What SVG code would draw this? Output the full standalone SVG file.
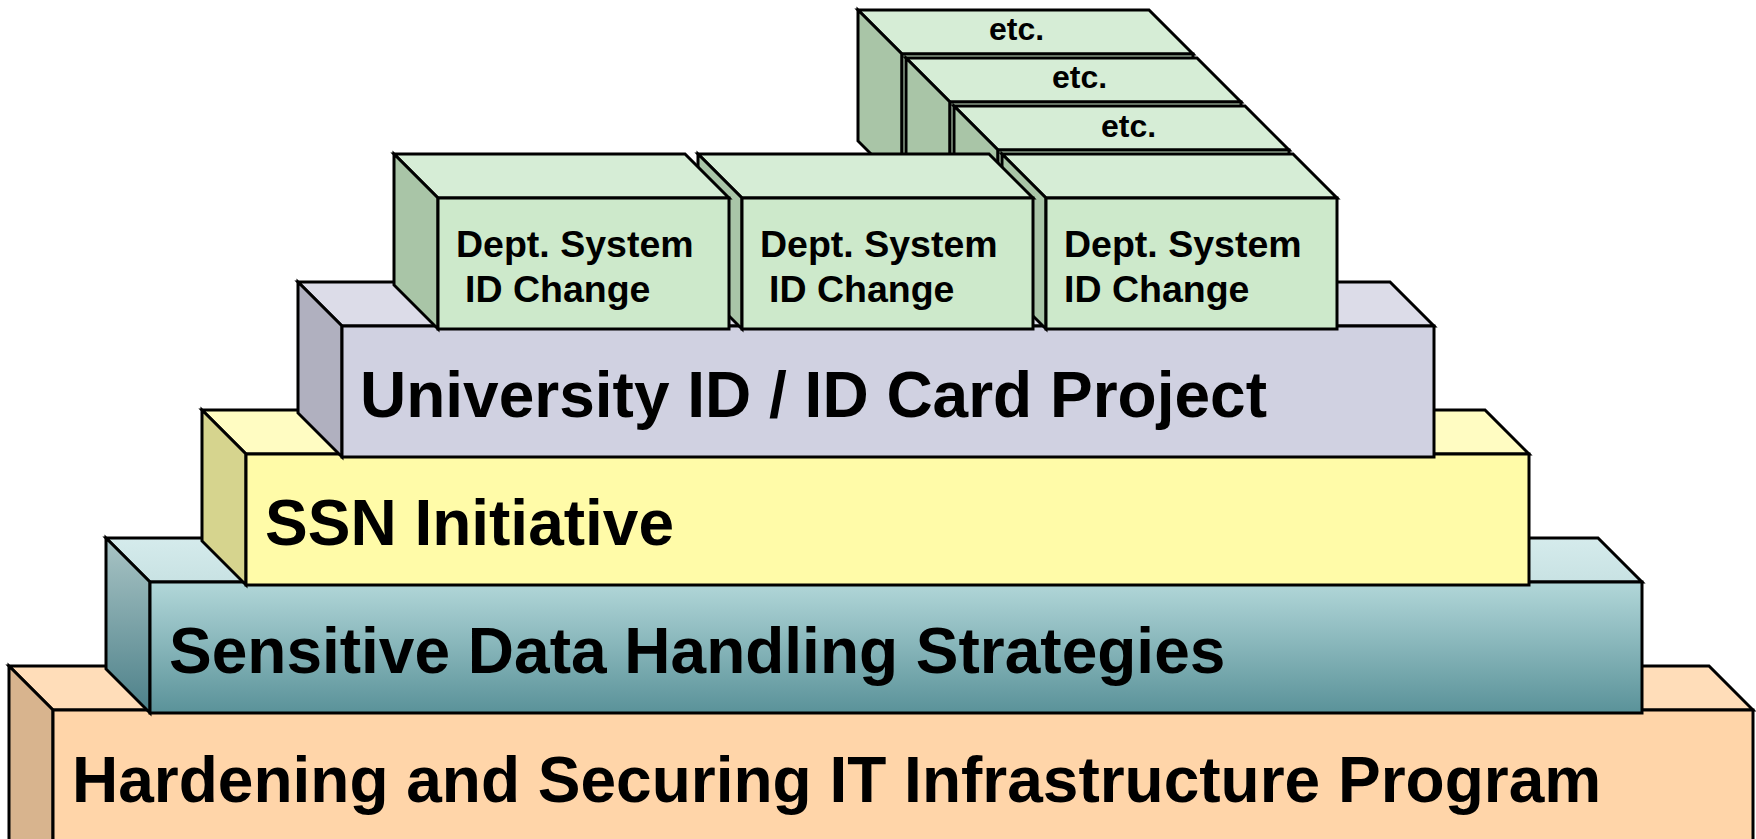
<svg xmlns="http://www.w3.org/2000/svg" width="1756" height="839" viewBox="0 0 1756 839">
<defs>
<linearGradient id="tealFront" x1="0" y1="0" x2="0" y2="1">
<stop offset="0" stop-color="#B2D7D9"/>
<stop offset="1" stop-color="#5A9299"/>
</linearGradient>
<linearGradient id="tealSide" x1="0" y1="0" x2="0" y2="1">
<stop offset="0" stop-color="#A9C4C5"/>
<stop offset="1" stop-color="#4C8089"/>
</linearGradient>
<linearGradient id="tealTop" x1="0" y1="0" x2="0" y2="1">
<stop offset="0" stop-color="#D5EBEC"/>
<stop offset="1" stop-color="#C8E2E3"/>
</linearGradient>
</defs>
<style>
.s{stroke:#000;stroke-width:3;stroke-linejoin:miter}
.big{font-family:"Liberation Sans",Arial,sans-serif;font-weight:bold;font-size:64px;fill:#000}
.dept{font-family:"Liberation Sans",Arial,sans-serif;font-weight:bold;font-size:37.5px;fill:#000}
.etc{font-family:"Liberation Sans",Arial,sans-serif;font-weight:bold;font-size:32px;fill:#000}
.hTop{fill:#FFDDB9}.hSide{fill:#D8B48E}.hFront{fill:#FFD5A9}
.yTop{fill:#FFFCC2}.ySide{fill:#D6D48E}.yFront{fill:#FFFBA8}
.lTop{fill:#DCDCE8}.lSide{fill:#B0B0BF}.lFront{fill:#D0D1E1}
.gTop{fill:#D6EDD6}.gSide{fill:#A9C5A7}.gFront{fill:#CDE9CB}
</style>

<g id="hardening">
<polygon class="s hTop" points="9,666 1709,666 1753,710 53,710"/>
<polygon class="s hSide" points="9,666 53,710 53,910 9,866"/>
<rect class="s hFront" x="53" y="710" width="1700" height="200"/>
<text class="big" x="72" y="802">Hardening and Securing IT Infrastructure Program</text>
</g>

<g id="sensitive">
<polygon class="s" fill="url(#tealTop)" points="106,538 1598,538 1642,582 150,582"/>
<polygon class="s" fill="url(#tealSide)" points="106,538 150,582 150,713 106,669"/>
<rect class="s" fill="url(#tealFront)" x="150" y="582" width="1492" height="131"/>
<text class="big" x="169" y="673">Sensitive Data Handling Strategies</text>
</g>

<g id="ssn">
<polygon class="s yTop" points="202,410 1485,410 1529,454 246,454"/>
<polygon class="s ySide" points="202,410 246,454 246,585 202,541"/>
<rect class="s yFront" x="246" y="454" width="1283" height="131"/>
<text class="big" x="265" y="545">SSN Initiative</text>
</g>

<g id="university">
<polygon class="s lTop" points="298,282 1390,282 1434,326 342,326"/>
<polygon class="s lSide" points="298,282 342,326 342,457 298,413"/>
<rect class="s lFront" x="342" y="326" width="1092" height="131"/>
<text class="big" x="360" y="417">University ID / ID Card Project</text>
</g>

<g id="etc1">
<polygon class="s gTop" points="858,10 1149,10 1193,54 902,54"/>
<polygon class="s gSide" points="858,10 902,54 902,185 858,141"/>
<rect class="s gFront" x="902" y="54" width="291" height="131"/>
<text class="etc" x="989" y="40">etc.</text>
</g>

<g id="etc2">
<polygon class="s gTop" points="906,58 1197,58 1241,102 950,102"/>
<polygon class="s gSide" points="906,58 950,102 950,233 906,189"/>
<rect class="s gFront" x="950" y="102" width="291" height="131"/>
<text class="etc" x="1052" y="88">etc.</text>
</g>

<g id="etc3">
<polygon class="s gTop" points="954,106 1245,106 1289,150 998,150"/>
<polygon class="s gSide" points="954,106 998,150 998,281 954,237"/>
<rect class="s gFront" x="998" y="150" width="291" height="131"/>
<text class="etc" x="1101" y="137">etc.</text>
</g>

<g id="dept3">
<polygon class="s gTop" points="1002,154 1293,154 1337,198 1046,198"/>
<polygon class="s gSide" points="1002,154 1046,198 1046,329 1002,285"/>
<rect class="s gFront" x="1046" y="198" width="291" height="131"/>
<text class="dept" x="1064" y="257">Dept. System</text>
<text class="dept" x="1064" y="302">ID Change</text>
</g>

<g id="dept2">
<polygon class="s gTop" points="698,154 989,154 1033,198 742,198"/>
<polygon class="s gSide" points="698,154 742,198 742,329 698,285"/>
<rect class="s gFront" x="742" y="198" width="291" height="131"/>
<text class="dept" x="760" y="257">Dept. System</text>
<text class="dept" x="769" y="302">ID Change</text>
</g>

<g id="dept1">
<polygon class="s gTop" points="394,154 685,154 729,198 438,198"/>
<polygon class="s gSide" points="394,154 438,198 438,329 394,285"/>
<rect class="s gFront" x="438" y="198" width="291" height="131"/>
<text class="dept" x="456" y="257">Dept. System</text>
<text class="dept" x="465" y="302">ID Change</text>
</g>

<g id="connectors"></g>
</svg>
